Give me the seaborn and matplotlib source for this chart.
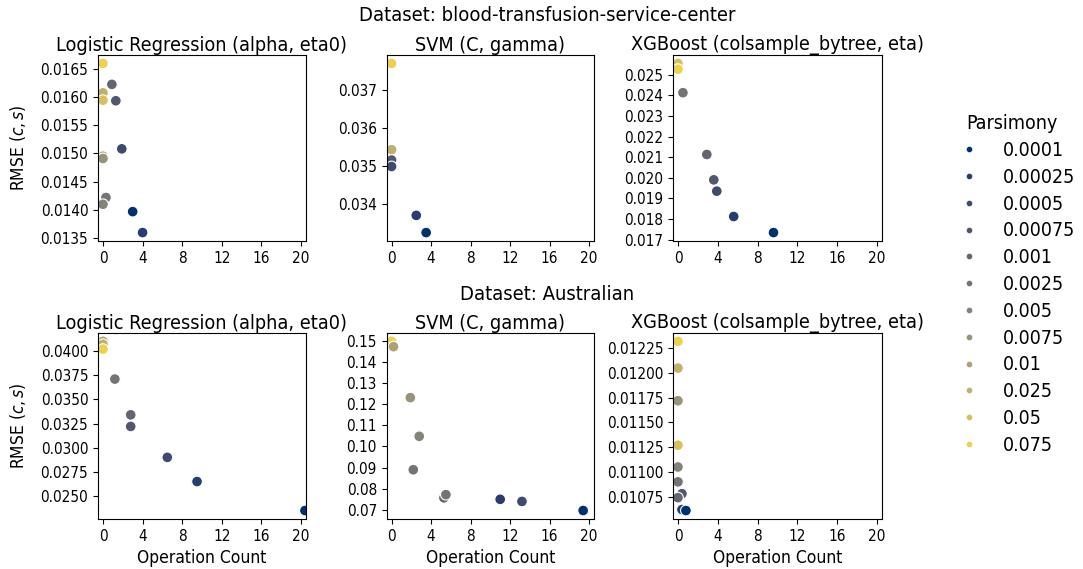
#!/usr/bin/env python3
import numpy as np
import pandas as pd
import seaborn as sns
from matplotlib import pyplot as plt
from matplotlib.lines import Line2D
from matplotlib.ticker import FixedLocator, FormatStrFormatter

# Parsimony levels used as hue
parsimony = ["0.0001", "0.00025", "0.0005", "0.00075", "0.001", "0.0025",
             "0.005", "0.0075", "0.01", "0.025", "0.05", "0.075"]

datasets = ["blood-transfusion-service-center", "Australian"]
models = ["Logistic Regression (alpha, eta0)", "SVM (C, gamma)",
          "XGBoost (colsample_bytree, eta)"]
x_ticks = [0, 4, 8, 12, 16, 20]

# blood-transfusion-service-center
blood_lr_ops = [0, 0.9, 0, 0, 1.3, 1.9, 0, 0, 0.3, 0, 3.0, 4.0]
blood_lr_rmse = [0.01659, 0.01622, 0.01607, 0.01594, 0.01593, 0.01508,
                 0.01495, 0.01491, 0.01422, 0.01410, 0.01397, 0.01360]
blood_lr_par = ["0.075", "0.001", "0.025", "0.05", "0.00075", "0.0005",
                "0.01", "0.0075", "0.0025", "0.005", "0.0001", "0.00025"]
blood_lr_yticks = [0.0135, 0.0140, 0.0145, 0.0150, 0.0155, 0.0160, 0.0165]

blood_svm_ops = [0, 0, 0, 0, 2.5, 3.5]
blood_svm_rmse = [0.03769, 0.03543, 0.03516, 0.03499, 0.03371, 0.03326]
blood_svm_par = ["0.075", "0.025", "0.00075", "0.0005", "0.00025", "0.0001"]
blood_svm_yticks = [0.034, 0.035, 0.036, 0.037]

blood_xgb_ops = [0, 0, 0.5, 2.9, 3.6, 3.9, 5.6, 9.6]
blood_xgb_rmse = [0.02555, 0.02527, 0.02413, 0.02113, 0.01990, 0.01935,
                  0.01812, 0.01734]
blood_xgb_par = ["0.05", "0.075", "0.0025", "0.001", "0.00075", "0.0005",
                 "0.00025", "0.0001"]
blood_xgb_yticks = [0.017, 0.018, 0.019, 0.020, 0.021, 0.022, 0.023,
                    0.024, 0.025]

# Australian
aus_lr_ops = [0, 0, 0, 1.2, 2.8, 2.8, 6.5, 9.5, 20.4]
aus_lr_rmse = [0.0410, 0.0407, 0.0402, 0.0371, 0.0334, 0.0322, 0.0290,
               0.0265, 0.0235]
aus_lr_par = ["0.01", "0.025", "0.075", "0.0025", "0.001", "0.00075",
              "0.0005", "0.00025", "0.0001"]
aus_lr_yticks = [0.0250, 0.0275, 0.0300, 0.0325, 0.0350, 0.0375, 0.0400]

aus_svm_ops = [0, 0.2, 1.9, 2.8, 2.2, 5.3, 5.5, 11.0, 13.2, 19.4]
aus_svm_rmse = [0.1497, 0.1472, 0.1231, 0.1048, 0.0890, 0.0757, 0.0772,
                0.0750, 0.0740, 0.0697]
aus_svm_par = ["0.075", "0.01", "0.0075", "0.005", "0.0025", "0.001",
               "0.0025", "0.00025", "0.0005", "0.0001"]
aus_svm_yticks = [0.07, 0.08, 0.09, 0.10, 0.11, 0.12, 0.13, 0.14, 0.15]

aus_xgb_ops = [0, 0, 0, 0, 0, 0, 0.4, 0, 0.4, 0.8]
aus_xgb_rmse = [0.01232, 0.01205, 0.01172, 0.01127, 0.01105, 0.01090,
                0.01078, 0.01074, 0.01062, 0.01061]
aus_xgb_par = ["0.075", "0.025", "0.0075", "0.05", "0.005", "0.0025",
               "0.00075", "0.001", "0.00025", "0.0001"]
aus_xgb_yticks = [0.01075, 0.01100, 0.01125, 0.01150, 0.01175, 0.01200,
                  0.01225]

panels = [
    [(blood_lr_ops, blood_lr_rmse, blood_lr_par, blood_lr_yticks, "%.4f"),
     (blood_svm_ops, blood_svm_rmse, blood_svm_par, blood_svm_yticks, "%.3f"),
     (blood_xgb_ops, blood_xgb_rmse, blood_xgb_par, blood_xgb_yticks, "%.3f")],
    [(aus_lr_ops, aus_lr_rmse, aus_lr_par, aus_lr_yticks, "%.4f"),
     (aus_svm_ops, aus_svm_rmse, aus_svm_par, aus_svm_yticks, "%.2f"),
     (aus_xgb_ops, aus_xgb_rmse, aus_xgb_par, aus_xgb_yticks, "%.5f")],
]


def main() -> None:
    plt.rcParams["font.family"] = ["DejaVu Sans Condensed", "DejaVu Sans"]
    plt.rcParams["font.stretch"] = "condensed"
    palette = dict(zip(parsimony, sns.color_palette("cividis", len(parsimony))))

    fig = plt.figure(figsize=(10.83, 5.69), dpi=100)
    lefts = [0.0905, 0.357, 0.6214]
    widths = [0.192, 0.1915, 0.193]
    bottoms = [0.5764, 0.0879]
    height = 0.327

    for r, row in enumerate(panels):
        for c, (ops, rmse, par, yticks, fmt) in enumerate(row):
            ax = fig.add_axes([lefts[c], bottoms[r], widths[c], height])
            df = pd.DataFrame({"ops": ops, "rmse": rmse, "par": par})
            sns.scatterplot(data=df, x="ops", y="rmse", hue="par",
                            hue_order=parsimony, palette=palette, s=60,
                            edgecolor="white", linewidth=0.8, legend=False,
                            ax=ax)
            ax.set_xlim(-0.5, 20.5)
            ax.set_xticks(x_ticks)
            ax.yaxis.set_major_locator(FixedLocator(yticks))
            ax.yaxis.set_major_formatter(FormatStrFormatter(fmt))
            ax.tick_params(labelsize=11)
            ax.set_title(models[c], fontsize=14.2, pad=3)
            ax.set_ylabel("RMSE ($c, s$)" if c == 0 else "", fontsize=12.5,
                          labelpad=9)
            ax.set_xlabel("Operation Count" if r == 1 else "", fontsize=12.5)

    fig.text(0.505, 0.972, f"Dataset: {datasets[0]}", ha="center",
             va="center", fontsize=14.5)
    fig.text(0.505, 0.482, f"Dataset: {datasets[1]}", ha="center",
             va="center", fontsize=14.5)

    handles = [Line2D([], [], marker="o", linestyle="", markersize=4.5,
                      markerfacecolor=palette[p], markeredgecolor="white",
                      markeredgewidth=0.4) for p in parsimony]
    fig.legend(handles, parsimony, title="Parsimony", loc="center left",
               bbox_to_anchor=(0.861, 0.5), frameon=False, fontsize=14,
               title_fontsize=14, handletextpad=0.7, labelspacing=0.4)

    fig.savefig("out.png", dpi=100)
    plt.close(fig)


if __name__ == "__main__":
    main()
